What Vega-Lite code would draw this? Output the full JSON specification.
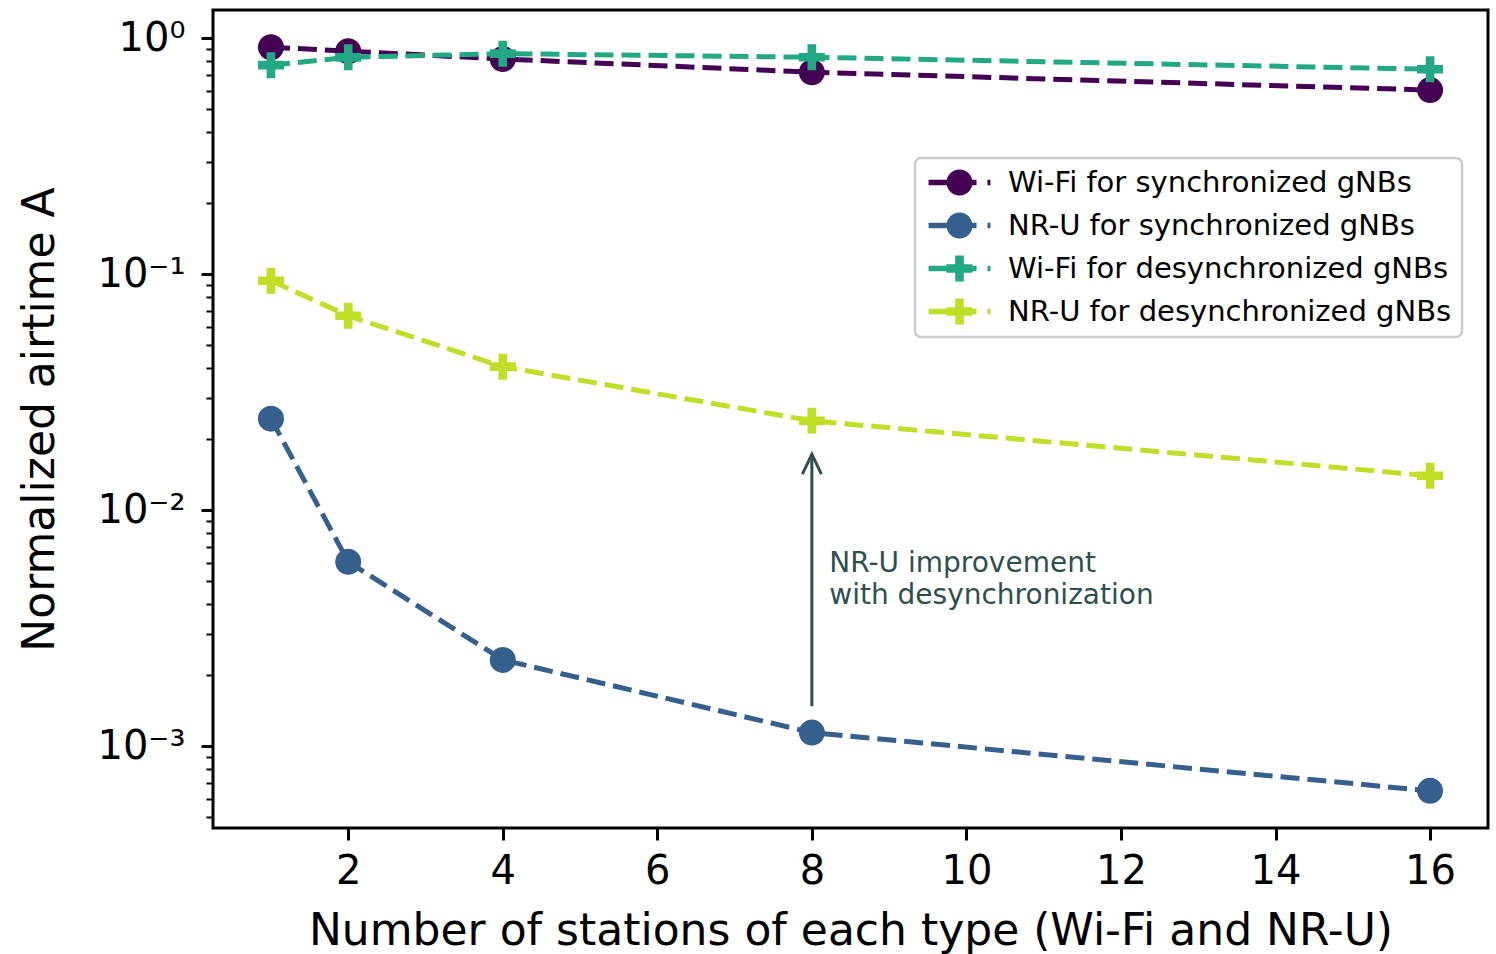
{
  "$schema": "https://vega.github.io/schema/vega-lite/v6.json",
  "autosize": {"type": "none"},
  "width": 1275,
  "height": 818,
  "padding": {"left": 213, "top": 10, "right": 8, "bottom": 126},
  "background": "white",
  "layer": [
    {
      "data": {"name": "airtime_data"},
      "mark": {"type": "point", "filled": true, "opacity": 0, "size": 676, "strokeWidth": 0},
      "encoding": {
        "x": {
          "field": "n",
          "type": "quantitative",
          "scale": {"domain": [0.25, 16.75], "nice": false, "zero": false},
          "axis": {
            "values": [2, 4, 6, 8, 10, 12, 14, 16],
            "format": "d",
            "title": "Number of stations of each type (Wi-Fi and NR-U)",
            "grid": false,
            "domain": false,
            "tickSize": 12,
            "tickWidth": 3,
            "tickColor": "black",
            "labelFontSize": 40,
            "labelColor": "black",
            "labelPadding": 11,
            "titleFontSize": 44,
            "titleFontWeight": "normal",
            "titleColor": "black",
            "titlePadding": 18
          }
        },
        "y": {
          "field": "airtime",
          "type": "quantitative",
          "scale": {"type": "log", "domain": [0.000451, 1.317], "nice": false},
          "axis": {
            "values": [0.0005, 0.0006, 0.0007, 0.0008, 0.0009, 0.001, 0.002, 0.003, 0.004, 0.005, 0.006, 0.007, 0.008, 0.009, 0.01, 0.02, 0.03, 0.04, 0.05, 0.06, 0.07, 0.08, 0.09, 0.1, 0.2, 0.3, 0.4, 0.5, 0.6, 0.7, 0.8, 0.9, 1],
            "labelExpr": "datum.value == 1 ? '10⁰' : datum.value == 0.1 ? '10⁻¹' : datum.value == 0.01 ? '10⁻²' : datum.value == 0.001 ? '10⁻³' : ''",
            "title": "Normalized airtime A",
            "grid": false,
            "domain": false,
            "tickColor": "black",
            "tickSize": {"condition": {"test": "datum.value == 1 || datum.value == 0.1 || datum.value == 0.01 || datum.value == 0.001", "value": 12}, "value": 7},
            "tickWidth": {"condition": {"test": "datum.value == 1 || datum.value == 0.1 || datum.value == 0.01 || datum.value == 0.001", "value": 3}, "value": 2},
            "labelFontSize": 40,
            "labelColor": "black",
            "labelPadding": 16,
            "labelFlush": false,
            "labelOverlap": false,
            "titleFontSize": 44,
            "titleFontWeight": "normal",
            "titleColor": "black",
            "titlePadding": 34
          }
        },
        "color": {
          "field": "series",
          "type": "nominal",
          "scale": {
            "domain": ["Wi-Fi for synchronized gNBs", "NR-U for synchronized gNBs", "Wi-Fi for desynchronized gNBs", "NR-U for desynchronized gNBs"],
            "range": ["#440154", "#355f8d", "#22a884", "#bddf26"]
          },
          "legend": {
            "title": null,
            "orient": "none",
            "legendX": 702,
            "legendY": 148,
            "padding": 10,
            "strokeColor": "#cccccc",
            "cornerRadius": 6,
            "fillColor": "white",
            "labelFontSize": 29,
            "labelColor": "black",
            "labelLimit": 600,
            "rowPadding": 13,
            "symbolSize": 676,
            "symbolStrokeWidth": 0,
            "symbolOpacity": 1,
            "symbolOffset": 20,
            "labelOffset": 34
          }
        },
        "shape": {
          "field": "series",
          "type": "nominal",
          "scale": {
            "domain": ["Wi-Fi for synchronized gNBs", "NR-U for synchronized gNBs", "Wi-Fi for desynchronized gNBs", "NR-U for desynchronized gNBs"],
            "range": [
              "M-2.38,-0.21H1.31V0.21H-2.38Z M2.15,-0.21H2.38V0.21H2.15Z M1,0A1,1,0,1,1,-1,0A1,1,0,1,1,1,0Z",
              "M-2.38,-0.21H1.31V0.21H-2.38Z M2.15,-0.21H2.38V0.21H2.15Z M1,0A1,1,0,1,1,-1,0A1,1,0,1,1,1,0Z",
              "M-2.38,-0.21H1.31V0.21H-2.38Z M2.15,-0.21H2.38V0.21H2.15Z M-1,-0.333H-0.333V-1H0.333V-0.333H1V0.333H0.333V1H-0.333V0.333H-1Z",
              "M-2.38,-0.21H1.31V0.21H-2.38Z M2.15,-0.21H2.38V0.21H2.15Z M-1,-0.333H-0.333V-1H0.333V-0.333H1V0.333H0.333V1H-0.333V0.333H-1Z"
            ]
          }
        }
      }
    },
    {
      "data": {"name": "airtime_data"},
      "mark": {"type": "line", "strokeWidth": 5, "strokeDash": [19, 8]},
      "encoding": {
        "x": {"field": "n", "type": "quantitative"},
        "y": {"field": "airtime", "type": "quantitative"},
        "color": {"field": "series", "type": "nominal"},
        "detail": {"field": "series"}
      }
    },
    {
      "data": {"name": "airtime_data"},
      "transform": [{"filter": "indexof(datum.series, 'desynchronized') < 0"}],
      "mark": {"type": "point", "shape": "circle", "filled": true, "opacity": 1, "size": 676, "strokeWidth": 0},
      "encoding": {
        "x": {"field": "n", "type": "quantitative"},
        "y": {"field": "airtime", "type": "quantitative"},
        "color": {"field": "series", "type": "nominal"}
      }
    },
    {
      "data": {"name": "airtime_data"},
      "transform": [{"filter": "indexof(datum.series, 'desynchronized') >= 0"}],
      "mark": {"type": "point", "shape": "M-1,-0.333H-0.333V-1H0.333V-0.333H1V0.333H0.333V1H-0.333V0.333H-1Z", "filled": true, "opacity": 1, "size": 676, "strokeWidth": 0},
      "encoding": {
        "x": {"field": "n", "type": "quantitative"},
        "y": {"field": "airtime", "type": "quantitative"},
        "color": {"field": "series", "type": "nominal"}
      }
    },
    {
      "data": {"values": [{}]},
      "mark": {"type": "rule", "color": "#2f4f4f", "strokeWidth": 3},
      "encoding": {
        "x": {"datum": 8},
        "y": {"datum": 0.00148},
        "y2": {"datum": 0.0173}
      }
    },
    {
      "data": {"values": [{}]},
      "mark": {"type": "point", "shape": "M-0.475,1L0,0L0.475,1", "size": 1600, "filled": false, "opacity": 1, "stroke": "#2f4f4f", "strokeWidth": 3, "strokeJoin": "miter"},
      "encoding": {
        "x": {"datum": 8},
        "y": {"datum": 0.0173}
      }
    },
    {
      "data": {"values": [{}]},
      "mark": {"type": "text", "text": ["NR-U improvement", "with desynchronization"], "align": "left", "baseline": "alphabetic", "lineHeight": 32, "fontSize": 28, "fontWeight": "normal", "color": "#2f4f4f"},
      "encoding": {
        "x": {"datum": 8.225},
        "y": {"datum": 0.005465}
      }
    }
  ],
  "datasets": {
    "airtime_data": [
      {"n": 1, "airtime": 0.916, "series": "Wi-Fi for synchronized gNBs"},
      {"n": 2, "airtime": 0.881, "series": "Wi-Fi for synchronized gNBs"},
      {"n": 4, "airtime": 0.817, "series": "Wi-Fi for synchronized gNBs"},
      {"n": 8, "airtime": 0.718, "series": "Wi-Fi for synchronized gNBs"},
      {"n": 16, "airtime": 0.603, "series": "Wi-Fi for synchronized gNBs"},
      {"n": 1, "airtime": 0.02446, "series": "NR-U for synchronized gNBs"},
      {"n": 2, "airtime": 0.00605, "series": "NR-U for synchronized gNBs"},
      {"n": 4, "airtime": 0.002325, "series": "NR-U for synchronized gNBs"},
      {"n": 8, "airtime": 0.001144, "series": "NR-U for synchronized gNBs"},
      {"n": 16, "airtime": 0.000648, "series": "NR-U for synchronized gNBs"},
      {"n": 1, "airtime": 0.769, "series": "Wi-Fi for desynchronized gNBs"},
      {"n": 2, "airtime": 0.83, "series": "Wi-Fi for desynchronized gNBs"},
      {"n": 4, "airtime": 0.86, "series": "Wi-Fi for desynchronized gNBs"},
      {"n": 8, "airtime": 0.831, "series": "Wi-Fi for desynchronized gNBs"},
      {"n": 16, "airtime": 0.739, "series": "Wi-Fi for desynchronized gNBs"},
      {"n": 1, "airtime": 0.0939, "series": "NR-U for desynchronized gNBs"},
      {"n": 2, "airtime": 0.0667, "series": "NR-U for desynchronized gNBs"},
      {"n": 4, "airtime": 0.0406, "series": "NR-U for desynchronized gNBs"},
      {"n": 8, "airtime": 0.02394, "series": "NR-U for desynchronized gNBs"},
      {"n": 16, "airtime": 0.01401, "series": "NR-U for desynchronized gNBs"}
    ]
  },
  "config": {
    "font": "DejaVu Sans",
    "view": {"stroke": "black", "strokeWidth": 3},
    "legend": {"strokeWidth": 2.5}
  }
}
